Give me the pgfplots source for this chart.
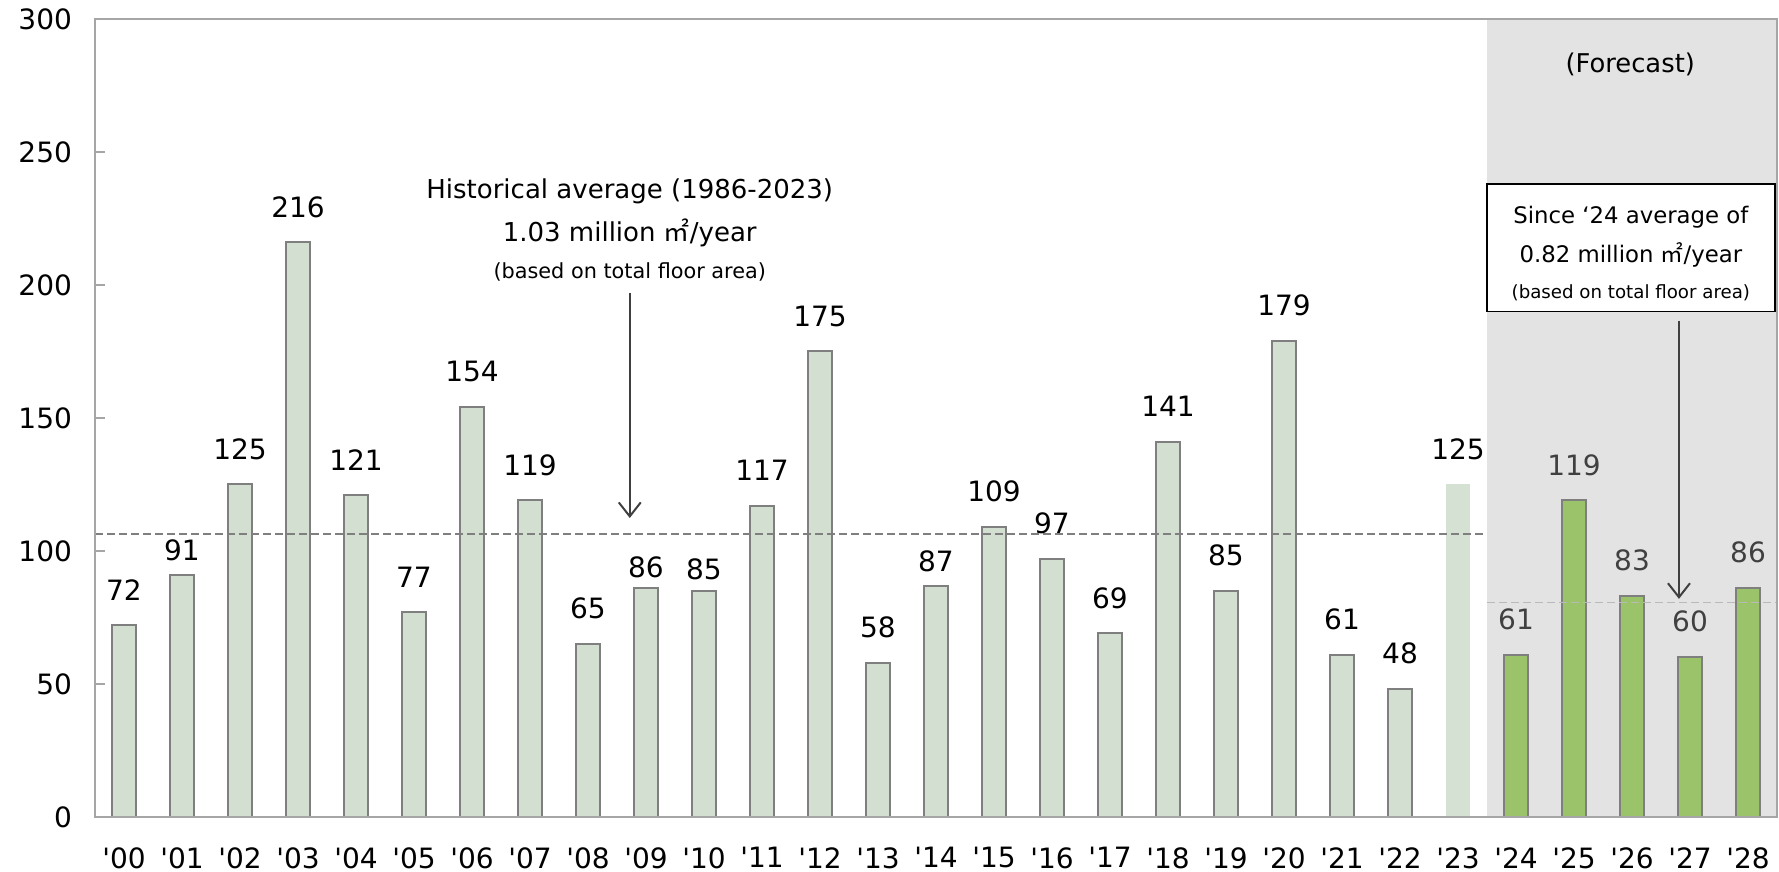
\documentclass[border=0pt]{standalone}
\usepackage{fontspec}
\setmainfont{DejaVu Sans}
\newfontfamily\cjk{Noto Sans CJK JP}
\usepackage{pgfplots}
\usepackage{pgfplotstable}
\pgfplotsset{compat=1.18}
\usetikzlibrary{arrows.meta}
\definecolor{histfill}{HTML}{D3DFD1}
\definecolor{lastfill}{HTML}{D5E1D3}
\definecolor{forefill}{HTML}{9BC36A}
\definecolor{barline}{HTML}{7F7F7F}
\definecolor{bandgray}{HTML}{E3E3E3}
\definecolor{axisgray}{HTML}{A6A6A6}
\definecolor{arrowgray}{HTML}{404040}
\newcommand{\q}{\textquotesingle}
% x, value, label offset (pt above bar top)
\pgfplotstableread{
x y off
0 72 12
1 91 6.5
2 125 12
3 216 12
4 121 12
5 77 12
6 154 12
7 119 12
8 65 12
9 86 4.5
10 85 5
11 117 12
12 175 12
13 58 12
14 87 6.5
15 109 12
16 97 12
17 69 12
18 141 12
19 85 12
20 179 12
21 61 12
22 48 12
}\hist
\pgfplotstableread{
x y off
23 125 12
}\last
\pgfplotstableread{
x y off
24 61 12
25 119 12
26 83 12
27 60 12
28 86 12
}\fore
\begin{document}
\begin{tikzpicture}
\begin{axis}[
  width=841pt, height=399pt, scale only axis,
  xmin=-0.5, xmax=28.5, ymin=0, ymax=300,
  ytick={0,50,...,300},
  xtick={0,...,28},
  xticklabels={\q00,\q01,\q02,\q03,\q04,\q05,\q06,\q07,\q08,\q09,\q10,\q11,\q12,\q13,\q14,\q15,\q16,\q17,\q18,\q19,\q20,\q21,\q22,\q23,\q24,\q25,\q26,\q27,\q28},
  axis line style={axisgray, line width=1pt},
  ytick style={axisgray, line width=1pt},
  xtick style={draw=none},
  major tick length=5pt,
  tick align=inside,
  ytick pos=left,
  tick label style={font=\fontsize{14}{16}\selectfont, black},
  /pgf/number format/assume math mode=true,
  yticklabel style={xshift=-8pt},
  xticklabel style={inner sep=0pt, anchor=north, yshift=-10pt},
  axis on top,
  ybar, bar width=0.4,
  visualization depends on={\thisrow{off} \as \off},
  every node near coord/.append style={font=\fontsize{14}{16}\selectfont, anchor=south, inner sep=0pt, yshift=\off pt},
]
\fill[bandgray] (axis cs:23.5,0) rectangle (axis cs:28.5,300);

\addplot[bar shift=0pt, fill=histfill, draw=barline, line width=1pt, nodes near coords, every node near coord/.append style={text=black}] table[x=x, y=y] {\hist};
\addplot[bar shift=0pt, fill=lastfill, draw=none, nodes near coords, every node near coord/.append style={text=black}] table[x=x, y=y] {\last};
\addplot[bar shift=0pt, fill=forefill, draw=barline, line width=1pt, nodes near coords, every node near coord/.append style={text=arrowgray}] table[x=x, y=y] {\fore};

\draw[barline, line width=1pt, dash pattern=on 4pt off 2pt] (axis cs:-0.5,106.5) -- (axis cs:23.5,106.5);
\draw[gray!55, line width=0.9pt, dash pattern=on 4pt off 2pt] (axis cs:23.5,80.6) -- (axis cs:28.5,80.6);

\draw[arrowgray, line width=1pt, -{Straight Barb[length=7pt,width=11pt]}] (axis cs:8.72,197) -- (axis cs:8.72,112.4);
\draw[arrowgray, line width=1pt, -{Straight Barb[length=7pt,width=11pt]}] (axis cs:26.81,186.5) -- (axis cs:26.81,82);

\node[anchor=base, inner sep=0pt, font=\fontsize{13}{15}\selectfont] at (axis cs:8.72,232.7) {Historical average (1986-2023)};
\node[anchor=base, inner sep=0pt, font=\fontsize{13}{15}\selectfont] at (axis cs:8.72,216.2) {1.03 million {\cjk ㎡}/year};
\node[anchor=base, inner sep=0pt, font=\fontsize{10.4}{12}\selectfont] at (axis cs:8.72,202.3) {(based on total floor area)};

\node[anchor=base, inner sep=0pt, font=\fontsize{12.9}{15}\selectfont] at (axis cs:25.97,280) {(Forecast)};

\draw[black, line width=0.8pt, fill=white] (axis cs:23.5,190) rectangle (axis cs:28.47,238);
\node[anchor=base, inner sep=0pt, font=\fontsize{11.4}{13}\selectfont] at (axis cs:25.98,223.3) {Since ‘24 average of};
\node[anchor=base, inner sep=0pt, font=\fontsize{11.4}{13}\selectfont] at (axis cs:25.98,208.3) {0.82 million {\cjk ㎡}/year};
\node[anchor=base, inner sep=0pt, font=\fontsize{9.1}{11}\selectfont] at (axis cs:25.98,195.1) {(based on total floor area)};
\end{axis}
\pgfresetboundingbox
\path[use as bounding box] ([xshift=-47.5pt, yshift=-27.5pt]current axis.south west) rectangle ([xshift=1pt, yshift=9.5pt]current axis.north east);
\end{tikzpicture}
\end{document}
